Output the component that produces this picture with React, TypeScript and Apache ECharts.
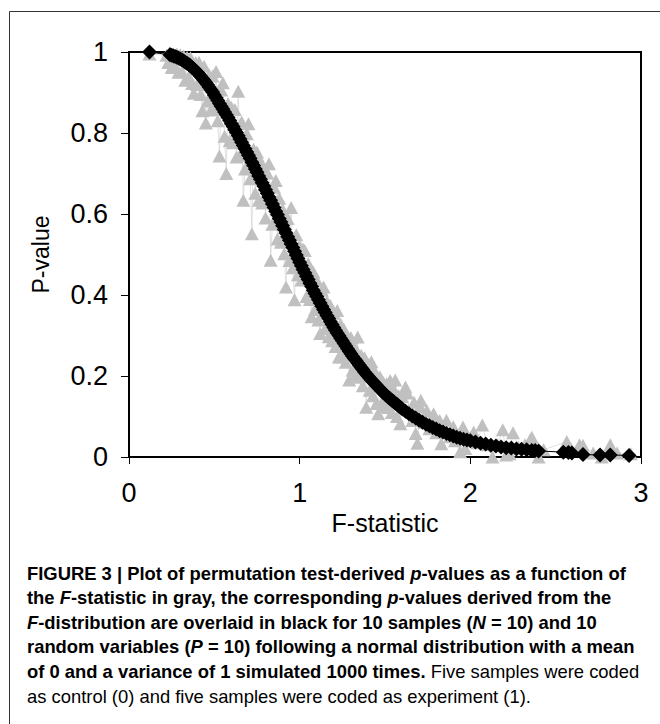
import React, { useEffect, useRef } from "react";
import * as echarts from "echarts";

// F-distribution derived p-values (black diamonds)
const blackF = [
  0.12,
  0.24, 0.25, 0.26, 0.27, 0.28, 0.29, 0.30, 0.31, 0.32, 0.33, 0.34, 0.35, 0.36, 0.37, 0.38, 0.39,
  0.40, 0.41, 0.42, 0.43, 0.44, 0.45, 0.46, 0.47, 0.48, 0.49, 0.50, 0.51, 0.52, 0.53, 0.54, 0.55,
  0.56, 0.57, 0.58, 0.59, 0.60, 0.61, 0.62, 0.63, 0.64, 0.65, 0.66, 0.67, 0.68, 0.69, 0.70, 0.71,
  0.72, 0.73, 0.74, 0.75, 0.76, 0.77, 0.78, 0.79, 0.80, 0.81, 0.82, 0.83, 0.84, 0.85, 0.86, 0.87,
  0.88, 0.89, 0.90, 0.91, 0.92, 0.93, 0.94, 0.95, 0.96, 0.97, 0.98, 0.99, 1.00, 1.01, 1.02, 1.03,
  1.04, 1.05, 1.06, 1.07, 1.08, 1.09, 1.10, 1.11, 1.12, 1.13, 1.14, 1.15, 1.16, 1.17, 1.18, 1.19,
  1.20, 1.21, 1.22, 1.23, 1.24, 1.25, 1.26, 1.27, 1.28, 1.29, 1.30, 1.31, 1.32, 1.33, 1.34, 1.35,
  1.36, 1.37, 1.38, 1.39, 1.40, 1.41, 1.42, 1.43, 1.44, 1.45, 1.46, 1.47, 1.48, 1.49, 1.50, 1.51,
  1.52, 1.53, 1.54, 1.55, 1.56, 1.57, 1.58, 1.59, 1.60,
  1.62, 1.64, 1.66, 1.68, 1.70, 1.72, 1.74, 1.76, 1.78, 1.80, 1.82, 1.84, 1.86, 1.88, 1.90, 1.92,
  1.94, 1.96, 1.98, 2.00,
  2.03, 2.06, 2.09, 2.12, 2.15, 2.18, 2.21, 2.24, 2.27, 2.30, 2.33, 2.36, 2.38, 2.40,
  2.545, 2.575, 2.595, 2.66, 2.76, 2.82, 2.93,
];
const blackP = [
  1.0,
  0.993, 0.992, 0.99, 0.989, 0.987, 0.985, 0.983, 0.981, 0.978, 0.975, 0.972, 0.969, 0.966, 0.962, 0.958, 0.954,
  0.95, 0.945, 0.94, 0.935, 0.93, 0.925, 0.919, 0.913, 0.907, 0.901, 0.894, 0.887, 0.88, 0.873, 0.866, 0.859,
  0.852, 0.845, 0.838, 0.831, 0.823, 0.816, 0.808, 0.801, 0.793, 0.785, 0.777, 0.769, 0.761, 0.753, 0.745, 0.737,
  0.728, 0.72, 0.711, 0.703, 0.694, 0.686, 0.677, 0.669, 0.66, 0.651, 0.642, 0.634, 0.625, 0.616, 0.607, 0.598,
  0.589, 0.58, 0.571, 0.562, 0.553, 0.544, 0.535, 0.526, 0.517, 0.508, 0.499, 0.49, 0.481, 0.472, 0.463, 0.455,
  0.446, 0.438, 0.429, 0.421, 0.412, 0.404, 0.396, 0.388, 0.38, 0.372, 0.364, 0.357, 0.349, 0.342, 0.334, 0.327,
  0.32, 0.313, 0.306, 0.3, 0.293, 0.287, 0.28, 0.274, 0.267, 0.261, 0.255, 0.249, 0.243, 0.238, 0.232, 0.227,
  0.221, 0.216, 0.21, 0.205, 0.2, 0.195, 0.19, 0.186, 0.181, 0.177, 0.172, 0.168, 0.163, 0.159, 0.155, 0.151,
  0.147, 0.144, 0.14, 0.137, 0.133, 0.13, 0.126, 0.123, 0.119,
  0.113, 0.107, 0.101, 0.096, 0.091, 0.086, 0.081, 0.077, 0.073, 0.069, 0.065, 0.062, 0.058, 0.055, 0.052, 0.049,
  0.046, 0.044, 0.042, 0.04,
  0.037, 0.034, 0.032, 0.029, 0.027, 0.025, 0.023, 0.022, 0.02, 0.019, 0.018, 0.016, 0.016, 0.015,
  0.012, 0.011, 0.01, 0.006, 0.005, 0.005, 0.004,
];

// permutation test-derived p-values (gray triangles)
const grayF = [
  0.12, 0.22, 0.23, 0.24, 0.25, 0.26, 0.27, 0.28, 0.29, 0.30, 0.31, 0.32, 0.33, 0.34, 0.35, 0.36,
  0.37, 0.38, 0.39, 0.40, 0.41, 0.42, 0.43, 0.44, 0.45, 0.46, 0.47, 0.48, 0.49, 0.50, 0.51, 0.52,
  0.53, 0.54, 0.55, 0.56, 0.57, 0.58, 0.59, 0.60, 0.61, 0.62, 0.63, 0.64, 0.65, 0.66, 0.67, 0.68,
  0.69, 0.70, 0.71, 0.72, 0.73, 0.74, 0.75, 0.76, 0.77, 0.78, 0.79, 0.80, 0.81, 0.82, 0.83, 0.84,
  0.85, 0.86, 0.87, 0.88, 0.89, 0.90, 0.91, 0.92, 0.93, 0.94, 0.95, 0.96, 0.97, 0.98, 0.99, 1.00,
  1.01, 1.02, 1.03, 1.04, 1.05, 1.06, 1.07, 1.08, 1.09, 1.10, 1.11, 1.12, 1.13, 1.14, 1.15, 1.16,
  1.17, 1.18, 1.19, 1.20, 1.21, 1.22, 1.23, 1.24, 1.25, 1.26, 1.27, 1.28, 1.29, 1.30, 1.31, 1.32,
  1.33, 1.34, 1.35, 1.36, 1.37, 1.38, 1.39, 1.40, 1.41, 1.42, 1.43, 1.44, 1.45, 1.46, 1.47, 1.48,
  1.49, 1.50, 1.51, 1.52, 1.53, 1.54, 1.55, 1.56, 1.57, 1.58, 1.59, 1.60,
  1.62, 1.63, 1.64, 1.66, 1.67, 1.68, 1.69, 1.705, 1.71, 1.73, 1.745, 1.76, 1.78, 1.785, 1.80, 1.82,
  1.83, 1.86, 1.88, 1.90, 1.91, 1.94, 1.957, 1.96, 1.97, 2.00, 2.02, 2.04, 2.07, 2.10, 2.13, 2.16,
  2.19, 2.21, 2.23, 2.25, 2.28, 2.32, 2.35, 2.36, 2.40, 2.43, 2.565, 2.59, 2.64, 2.66, 2.72, 2.77,
  2.82, 2.86, 2.94,
];
const grayP = [
  0.995, 0.992, 0.974, 0.998, 0.962, 0.995, 0.964, 0.995, 0.95, 0.993, 0.951, 0.99, 0.93, 0.987, 0.939, 0.986,
  0.922, 0.898, 0.974, 0.92, 0.975, 0.895, 0.855, 0.965, 0.825, 0.879, 0.943, 0.857, 0.941, 0.859, 0.952, 0.83,
  0.743, 0.906, 0.924, 0.792, 0.7, 0.873, 0.781, 0.863, 0.776, 0.858, 0.741, 0.903, 0.745, 0.827, 0.634, 0.711,
  0.798, 0.823, 0.687, 0.551, 0.76, 0.651, 0.753, 0.634, 0.731, 0.627, 0.709, 0.59, 0.701, 0.724, 0.486, 0.575,
  0.666, 0.683, 0.538, 0.639, 0.53, 0.611, 0.502, 0.42, 0.589, 0.485, 0.616, 0.467, 0.388, 0.549, 0.45, 0.521,
  0.437, 0.513, 0.51, 0.396, 0.478, 0.389, 0.346, 0.457, 0.364, 0.436, 0.338, 0.305, 0.412, 0.42, 0.317, 0.384,
  0.297, 0.374, 0.287, 0.355, 0.273, 0.362, 0.247, 0.328, 0.247, 0.315, 0.234, 0.297, 0.19, 0.295, 0.214, 0.273,
  0.203, 0.296, 0.197, 0.251, 0.176, 0.245, 0.123, 0.23, 0.165, 0.235, 0.151, 0.211, 0.132, 0.107, 0.198, 0.133,
  0.184, 0.125, 0.181, 0.122, 0.189, 0.11, 0.167, 0.19, 0.1, 0.151, 0.082, 0.149,
  0.173, 0.158, 0.115, 0.09, 0.135, 0.058, 0.034, 0.124, 0.14, 0.085, 0.115, 0.07, 0.1, 0.107, 0.06, 0.09,
  0.033, 0.091, 0.05, 0.075, 0.04, 0.013, 0.074, 0.067, 0.021, 0.048, 0.062, 0.035, 0.079, 0.03, 0.0, 0.03,
  0.067, 0.005, 0.008, 0.06, 0.025, 0.03, 0.042, 0.049, 0.0, 0.018, 0.038, 0.02, 0.03, 0.029, 0.01, 0.0,
  0.03, 0.01, 0.008,
];

const xTicks = [0, 1, 2, 3];
const yTicks = [0, 0.2, 0.4, 0.6, 0.8, 1];

type Seg = [string, string];
const captionLines: Seg[][] = [
  [["b", "FIGURE 3 | Plot of permutation test-derived "], ["bi", "p"], ["b", "-values as a function of"]],
  [["b", "the "], ["bi", "F"], ["b", "-statistic in gray, the corresponding "], ["bi", "p"], ["b", "-values derived from the"]],
  [["bi", "F"], ["b", "-distribution are overlaid in black for 10 samples ("], ["bi", "N"], ["b", " = 10) and 10"]],
  [["b", "random variables ("], ["bi", "P"], ["b", " = 10) following a normal distribution with a mean"]],
  [["b", "of 0 and a variance of 1 simulated 1000 times."], ["r", " Five samples were coded"]],
  [["r", "as control (0) and five samples were coded as experiment (1)."]],
];

const FONT = "'Liberation Sans', Arial, sans-serif";
const CAP_FONT = "'Liberation Sans Narrow', 'Liberation Sans', Arial, sans-serif";

export default function App() {
  const ref = useRef<HTMLDivElement>(null);
  useEffect(() => {
    if (!ref.current) return;
    const chart = echarts.init(ref.current, null, { renderer: "svg" });
    const capSize = 18.4;
    const rich = {
      b: { fontFamily: CAP_FONT, fontSize: capSize, fontWeight: "bold", color: "#231f20" },
      bi: { fontFamily: CAP_FONT, fontSize: capSize, fontWeight: "bold", fontStyle: "italic", color: "#231f20" },
      r: { fontFamily: CAP_FONT, fontSize: capSize, fontWeight: "normal", color: "#3c3c3c" },
    };
    const captionGraphics = captionLines.map((line, i) => ({
      type: "text",
      left: 27,
      top: 564 + i * 24.6,
      style: {
        text: line.map(([k, t]) => `{${k}|${t}}`).join(""),
        rich,
        font: `bold ${capSize}px ${CAP_FONT}`,
      },
    }));
    chart.setOption({
      animation: false,
      backgroundColor: "#fff",
      grid: {
        left: 129,
        top: 52,
        width: 512,
        height: 405,
        show: true,
        borderColor: "#000",
        borderWidth: 2,
        backgroundColor: "transparent",
      },
      xAxis: {
        type: "value",
        min: xTicks[0],
        max: xTicks[xTicks.length - 1],
        interval: 1,
        name: "F-statistic",
        nameLocation: "middle",
        nameGap: 32,
        nameTextStyle: { fontFamily: FONT, fontSize: 25, color: "#000" },
        axisLine: { show: true, onZero: false, lineStyle: { color: "#000", width: 2 } },
        axisTick: { show: true, length: 7, lineStyle: { color: "#000", width: 1 } },
        axisLabel: { fontFamily: FONT, fontSize: 27, color: "#000", margin: 22 },
        splitLine: { show: false },
      },
      yAxis: {
        type: "value",
        min: yTicks[0],
        max: yTicks[yTicks.length - 1],
        interval: 0.2,
        name: "P-value",
        nameLocation: "middle",
        nameRotate: 90,
        nameGap: 77,
        nameTextStyle: { fontFamily: FONT, fontSize: 23, color: "#000" },
        axisLine: { show: true, onZero: false, lineStyle: { color: "#000", width: 2 } },
        axisTick: { show: true, length: 8, lineStyle: { color: "#000", width: 1 } },
        axisLabel: { fontFamily: FONT, fontSize: 27, color: "#000", margin: 21 },
        splitLine: { show: false },
      },
      series: [
        {
          name: "permutation",
          type: "line",
          data: grayF.map((f, i) => [f, grayP[i]]),
          symbol: "triangle",
          symbolSize: [14, 13],
          showAllSymbol: true,
          itemStyle: { color: "#c0c0c0" },
          lineStyle: { color: "#d2d2d2", width: 0.7 },
          z: 2,
        },
        {
          name: "F-distribution",
          type: "line",
          data: blackF.map((f, i) => [f, blackP[i]]),
          symbol: "diamond",
          symbolSize: 15,
          showAllSymbol: true,
          itemStyle: { color: "#000" },
          lineStyle: { color: "#000", width: 1 },
          z: 3,
        },
      ],
      graphic: [
        {
          type: "rect",
          shape: { x: 9.5, y: 11.5, width: 700, height: 800 },
          style: { fill: "none", stroke: "#333", lineWidth: 1 },
          silent: true,
        },
        ...captionGraphics,
      ],
    });
    return () => chart.dispose();
  }, []);
  return (
    <div
      ref={ref}
      style={{ position: "fixed", left: 0, top: 0, width: 660, height: 724, background: "#fff" }}
    />
  );
}
